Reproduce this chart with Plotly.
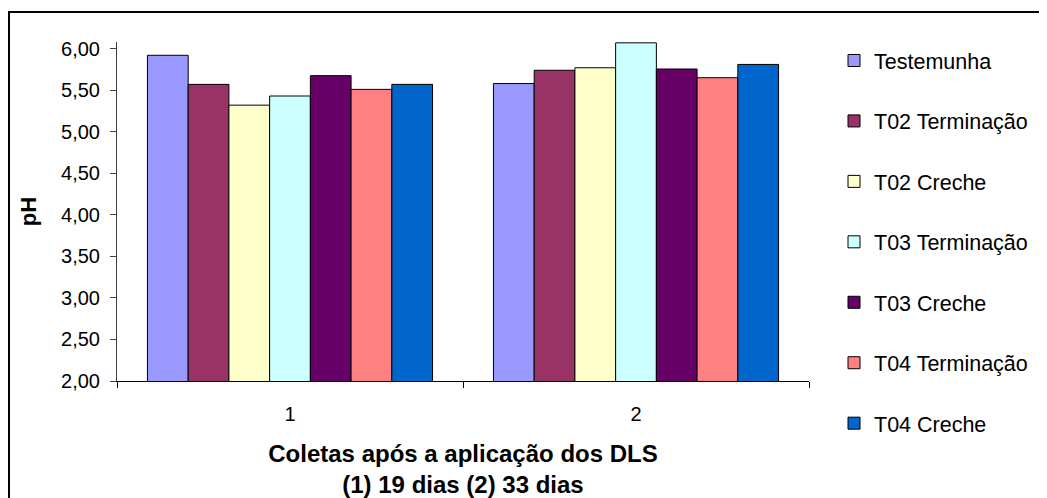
import plotly.graph_objects as go

categories = ["1", "2"]
series_names = ["Testemunha", "T02 Terminação", "T02 Creche", "T03 Terminação",
                "T03 Creche", "T04 Terminação", "T04 Creche"]
series_values = [
    [5.92, 5.58],
    [5.57, 5.74],
    [5.32, 5.77],
    [5.43, 6.07],
    [5.675, 5.755],
    [5.51, 5.65],
    [5.57, 5.81],
]
series_colors = ["#9999FF", "#993366", "#FFFFCC", "#CCFFFF", "#660066", "#FF8080", "#0066CC"]
y_ticks = [2.0, 2.5, 3.0, 3.5, 4.0, 4.5, 5.0, 5.5, 6.0]

FONT = "Liberation Sans, Arial, sans-serif"

fig = go.Figure()
for i, (name, vals, col) in enumerate(zip(series_names, series_values, series_colors)):
    fig.add_trace(go.Bar(
        x=categories, y=vals, name=name, legendgroup=f"g{i}",
        marker=dict(color=col, line=dict(color="black", width=1)),
    ))

W, H = 1039, 490
L, R, T, B = 109, 238, 34, 117
pw, ph = W - L - R, H - T - B

def px_x(x):
    return (x - L) / pw

def px_y(y):
    return (H - B - y) / ph

fig.update_layout(
    width=W, height=H,
    margin=dict(l=L, r=R, t=T, b=B, autoexpand=False),
    paper_bgcolor="white", plot_bgcolor="white",
    separators=",.",
    font=dict(family=FONT, size=20, color="black"),
    barmode="group", bargap=0.176, bargroupgap=0,
    showlegend=True,
    legend=dict(
        x=px_x(826), xanchor="left", y=px_y(32), yanchor="top",
        font=dict(family=FONT, size=21.5, color="black"),
        tracegroupgap=29.5, bgcolor="rgba(0,0,0,0)", maxheight=1,
        itemclick=False, itemdoubleclick=False,
    ),
    xaxis=dict(
        type="category", showline=True, linecolor="black", linewidth=1,
        ticks="outside", tickson="boundaries", ticklen=6, tickcolor="black",
        showgrid=False, zeroline=False,
        tickfont=dict(family=FONT, size=20),
        ticklabelstandoff=15,
        title=dict(text="<b>Coletas após a aplicação dos DLS<br>(1) 19 dias (2) 33 dias</b>",
                   font=dict(family=FONT, size=24), standoff=26),
    ),
    yaxis=dict(
        range=[2, 6.08], tickvals=y_ticks, tickformat=".2f",
        showline=True, linecolor="#404040", linewidth=1,
        ticks="outside", ticklen=6, tickcolor="#404040",
        showgrid=False, zeroline=False,
        tickfont=dict(family=FONT, size=20),
        ticklabelstandoff=6,
        title=dict(text="<b>pH</b>", font=dict(family=FONT, size=22), standoff=18),
    ),
    shapes=[dict(
        type="rect", xref="paper", yref="paper",
        x0=px_x(1), x1=px_x(1300), y0=px_y(700), y1=px_y(4),
        line=dict(color="black", width=2), fillcolor="rgba(0,0,0,0)", layer="below",
    )],
)

fig.write_html("out.html")
